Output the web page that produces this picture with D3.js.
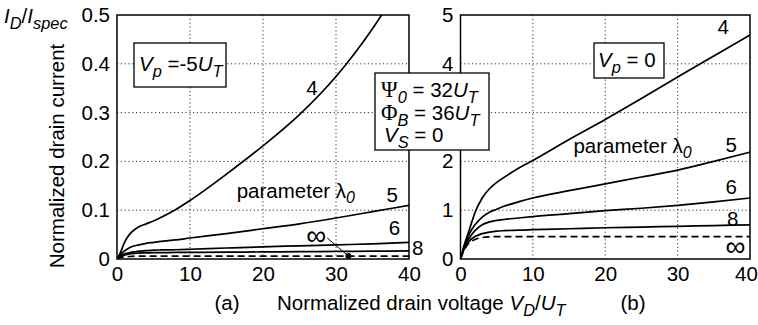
<!DOCTYPE html>
<html>
<head>
<meta charset="utf-8">
<script src="https://cdn.jsdelivr.net/npm/d3@7"></script>
<style>
  body { margin: 0; background: #fff; }
  svg { font-family: "Liberation Sans", Arial, sans-serif; }
</style>
</head>
<body>
<svg id="chart"></svg>
<script>
// drain voltage samples V_D/U_T
const vd = [0, 0.5, 1, 1.5, 2, 3, 4, 5, 6, 8, 10, 15, 20, 25, 30, 35, 40];

// (a) Vp = -5 UT, I_D/I_spec for lambda0 = 4, 5, 6, 8, inf
const a4   = [0, 0.014, 0.033, 0.046, 0.055, 0.066, 0.072, 0.078, 0.085, 0.101, 0.120, 0.174, 0.232, 0.296, 0.374, 0.472, 0.59];
const a5   = [0, 0.009, 0.016, 0.021, 0.025, 0.029, 0.032, 0.034, 0.036, 0.039, 0.043, 0.052, 0.062, 0.072, 0.084, 0.097, 0.110];
const a6   = [0, 0.006, 0.010, 0.012, 0.014, 0.016, 0.017, 0.018, 0.0185, 0.019, 0.020, 0.0225, 0.025, 0.027, 0.029, 0.031, 0.034];
const a8   = [0, 0.005, 0.008, 0.010, 0.011, 0.012, 0.0125, 0.013, 0.013, 0.0135, 0.0135, 0.014, 0.0145, 0.015, 0.0155, 0.016, 0.0165];
const aInf = [0, 0.003, 0.0045, 0.005, 0.0055, 0.006, 0.006, 0.006, 0.006, 0.006, 0.006, 0.006, 0.006, 0.006, 0.006, 0.006, 0.006];

// (b) Vp = 0
const b4   = [0, 0.28, 0.50, 0.73, 0.95, 1.25, 1.44, 1.57, 1.67, 1.86, 2.02, 2.45, 2.86, 3.29, 3.73, 4.16, 4.59];
const b5   = [0, 0.24, 0.45, 0.59, 0.70, 0.86, 0.96, 1.02, 1.08, 1.17, 1.25, 1.40, 1.54, 1.68, 1.82, 2.00, 2.19];
const b6   = [0, 0.22, 0.38, 0.49, 0.58, 0.70, 0.76, 0.79, 0.81, 0.84, 0.87, 0.93, 0.99, 1.04, 1.10, 1.17, 1.25];
const b8   = [0, 0.20, 0.33, 0.41, 0.46, 0.52, 0.55, 0.57, 0.58, 0.59, 0.60, 0.62, 0.64, 0.655, 0.67, 0.685, 0.70];
const bInf = [0, 0.18, 0.30, 0.36, 0.40, 0.44, 0.455, 0.46, 0.46, 0.46, 0.46, 0.46, 0.46, 0.46, 0.46, 0.46, 0.46];

const lambdas = ['4', '5', '6', '8', '∞'];
const xTicks = [0, 10, 20, 30, 40];
const yTicksA = [0, 0.1, 0.2, 0.3, 0.4, 0.5];
const yTicksB = [0, 1, 2, 3, 4, 5];

// marker on the inf curve of (a)
const dotA = { vd: 31.7, id: 0.006 };

const W = 758, H = 325;
const FS = 20.5;

const svg = d3.select('#chart').attr('width', W).attr('height', H);
svg.append('rect').attr('width', W).attr('height', H).attr('fill', '#fff');

function panel(cfg) {
    const x = d3.scaleLinear().domain([0, 40]).range([cfg.left, cfg.right]);
    const y = d3.scaleLinear().domain([0, cfg.ymax]).range([cfg.bottom, cfg.top]);
    const g = svg.append('g');

    // dotted grid
    const grid = g.append('g')
        .attr('stroke', '#333')
        .attr('stroke-width', 1)
        .attr('stroke-dasharray', '1.2,2.6');
    grid.selectAll('line.gx')
        .data(xTicks.slice(1, -1))
        .join('line')
        .attr('class', 'gx')
        .attr('x1', d => x(d)).attr('x2', d => x(d))
        .attr('y1', cfg.top).attr('y2', cfg.bottom);
    grid.selectAll('line.gy')
        .data(cfg.yTicks.slice(1, -1))
        .join('line')
        .attr('class', 'gy')
        .attr('x1', cfg.left).attr('x2', cfg.right)
        .attr('y1', d => y(d)).attr('y2', d => y(d));

    const clipId = 'clip' + cfg.name;
    svg.append('clipPath').attr('id', clipId)
        .append('rect')
        .attr('x', cfg.left).attr('y', cfg.top)
        .attr('width', cfg.right - cfg.left).attr('height', cfg.bottom - cfg.top);

    const line = d3.line()
        .x((d, i) => x(vd[i]))
        .y(d => y(d))
        .curve(d3.curveMonotoneX);

    g.append('g').attr('clip-path', `url(#${clipId})`)
        .selectAll('path')
        .data(cfg.series)
        .join('path')
        .attr('d', d => line(d))
        .attr('fill', 'none')
        .attr('stroke', '#000')
        .attr('stroke-width', 1.7)
        .attr('stroke-dasharray', (d, i) => i === cfg.series.length - 1 ? '7,4' : null);

    // frame
    g.append('rect')
        .attr('x', cfg.left).attr('y', cfg.top)
        .attr('width', cfg.right - cfg.left).attr('height', cfg.bottom - cfg.top)
        .attr('fill', 'none').attr('stroke', '#000').attr('stroke-width', 1.5);

    // axes
    const ax = g.append('g')
        .attr('transform', `translate(0,${cfg.bottom})`)
        .call(d3.axisBottom(x).tickValues(xTicks).tickSize(0).tickPadding(7));
    const ay = g.append('g')
        .attr('transform', `translate(${cfg.left},0)`)
        .call(d3.axisLeft(y).tickValues(cfg.yTicks).tickSize(0).tickPadding(7)
            .tickFormat(d => cfg.hideY.includes(d) ? '' : d3.format('')(d)));
    [ax, ay].forEach(a => {
        a.select('.domain').remove();
        a.attr('font-family', null).attr('font-size', FS);
        a.selectAll('text').attr('fill', '#000');
    });
    if (cfg.lastDx) ax.selectAll('text').filter(d => d === 40).attr('dx', cfg.lastDx);

    // curve labels
    g.append('g').selectAll('text')
        .data(cfg.labels)
        .join('text')
        .attr('x', d => x(d[0]))
        .attr('y', d => y(d[1]))
        .attr('text-anchor', 'middle')
        .attr('dy', '0.35em')
        .attr('font-size', (d, i) => lambdas[i] === '∞' ? 28 : FS)
        .text((d, i) => lambdas[i]);

    // "parameter lambda0"
    const pt = g.append('text')
        .attr('x', x(cfg.param[0])).attr('y', y(cfg.param[1]))
        .attr('dy', '0.35em').attr('font-size', FS);
    pt.append('tspan').text('parameter λ');
    pt.append('tspan').attr('dy', 5).attr('font-size', 16).attr('font-style', 'italic').text('0');

    return { x, y, g };
}

const pa = panel({
    name: 'a', left: 117, right: 409, top: 15, bottom: 259, ymax: 0.5,
    yTicks: yTicksA, hideY: [], series: [a4, a5, a6, a8, aInf],
    labels: [[26.7, 0.35], [37.7, 0.131], [38.0, 0.063], [41.2, 0.022], [27.3, 0.049]],
    param: [16.4, 0.14]
});

// the "3" label of (b) sits under the parameter box
const pb = panel({
    name: 'b', left: 460.5, right: 750, top: 15, bottom: 259, ymax: 5,
    yTicks: yTicksB, hideY: [3], lastDx: -4, series: [b4, b5, b6, b8, bInf],
    labels: [[36.3, 4.75], [37.4, 2.33], [37.4, 1.47], [37.6, 0.82], [38.0, 0.27]],
    param: [15.6, 2.32]
});

// leader from inf label to marker in (a)
pa.g.append('line')
    .attr('x1', pa.x(28.8)).attr('y1', pa.y(0.043))
    .attr('x2', pa.x(dotA.vd)).attr('y2', pa.y(dotA.id))
    .attr('stroke', '#000').attr('stroke-width', 1);
pa.g.append('circle')
    .attr('cx', pa.x(dotA.vd)).attr('cy', pa.y(dotA.id)).attr('r', 3)
    .attr('fill', '#000');

// rich text helper: parts = [text, style]; 'i' italic, 's' italic subscript, 'g' serif greek
function rich(parent, x, y, parts, size) {
    const t = parent.append('text').attr('x', x).attr('y', y).attr('font-size', size);
    let sub = false;
    parts.forEach(p => {
        const s = t.append('tspan').text(p[0]);
        if (p[1] === 's') {
            s.attr('font-size', size * 0.8).attr('font-style', 'italic');
            if (!sub) s.attr('dy', size * 0.28);
            sub = true;
        } else {
            if (sub) s.attr('dy', -size * 0.28);
            sub = false;
            if (p[1] === 'i') s.attr('font-style', 'italic');
            if (p[1] === 'g') s.attr('font-family', '"Liberation Serif", serif').attr('font-size', size * 1.1);
        }
    });
    return t;
}

function box(x, y, w, h) {
    svg.append('rect').attr('x', x).attr('y', y).attr('width', w).attr('height', h)
        .attr('fill', '#fff').attr('stroke', '#000').attr('stroke-width', 1.3);
}

box(134, 43, 92, 44);
rich(svg, 139, 71, [['V', 'i'], ['p', 's'], [' =-5', ''], ['U', 'i'], ['T', 's']], FS);

box(594, 43, 70, 35);
rich(svg, 598, 67, [['V', 'i'], ['p', 's'], [' = 0', '']], FS);

box(375, 73, 114, 77);
rich(svg, 381, 97, [['Ψ', 'g'], ['0', 's'], [' = 32', ''], ['U', 'i'], ['T', 's']], FS);
rich(svg, 381, 120, [['Φ', 'g'], ['B', 's'], [' = 36', ''], ['U', 'i'], ['T', 's']], FS);
rich(svg, 384, 142, [['V', 'i'], ['S', 's'], [' = 0', '']], FS);

// axis titles
rich(svg, 4, 23, [['I', 'i'], ['D', 's'], ['/', ''], ['I', 'i'], ['spec', 's']], FS);

svg.append('text')
    .attr('transform', 'translate(64,156) rotate(-90)')
    .attr('text-anchor', 'middle')
    .attr('font-size', FS)
    .text('Normalized drain current');

rich(svg, 277, 310, [['Normalized drain voltage ', ''], ['V', 'i'], ['D', 's'], ['/', ''], ['U', 'i'], ['T', 's']], FS);

svg.append('text').attr('x', 227).attr('y', 310).attr('text-anchor', 'middle')
    .attr('font-size', FS).text('(a)');
svg.append('text').attr('x', 633).attr('y', 310).attr('text-anchor', 'middle')
    .attr('font-size', FS).text('(b)');
</script>
</body>
</html>
